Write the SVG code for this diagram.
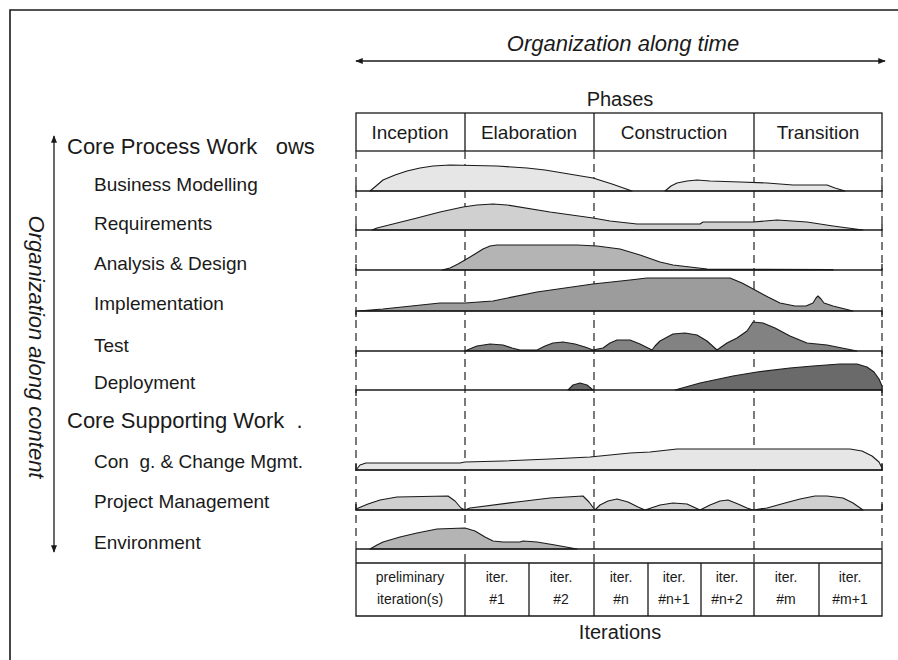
<svg xmlns="http://www.w3.org/2000/svg" width="898" height="660" viewBox="0 0 898 660">
<style>
text{font-family:"Liberation Sans",Arial,sans-serif;fill:#1a1a1a;white-space:pre}
.it{font-style:italic;font-size:22px}
.hdr{font-size:22px}
.lbl{font-size:19px}
.ph{font-size:19px;text-anchor:middle}
.cell{font-size:14px;text-anchor:middle}
.big{font-size:20px;text-anchor:middle}
.base{stroke:#1a1a1a;stroke-width:1.3;fill:none}
.dash{stroke:#333;stroke-width:1.3;stroke-dasharray:8 5;fill:none}
.box{stroke:#1a1a1a;stroke-width:1.3;fill:none}
.hump{stroke:#1a1a1a;stroke-width:1.1;stroke-linejoin:round}
.c1{fill:#e6e6e6}.c2{fill:#d0d0d0}.c3{fill:#b4b4b4}.c4{fill:#9c9c9c}.c5{fill:#828282}.c6{fill:#6a6a6a}
.arr{stroke:#1a1a1a;stroke-width:1.3;fill:none}
</style>
<defs>
<marker id="ah" viewBox="0 0 10 8" refX="9" refY="4" markerWidth="8" markerHeight="6" orient="auto-start-reverse" markerUnits="userSpaceOnUse">
<path d="M0,0 L10,4 L0,8 Z" fill="#1a1a1a"/>
</marker>
</defs>
<rect width="898" height="660" fill="#fff"/>
<path d="M10,660 V10 H898" stroke="#1a1a1a" stroke-width="1.6" fill="none"/>

<g id="time-axis">
<text class="it" x="623" y="51" text-anchor="middle">Organization along time</text>
<line class="arr" x1="356" y1="61" x2="885" y2="61" marker-start="url(#ah)" marker-end="url(#ah)"/>
</g>
<g id="content-axis">
<text class="it" transform="translate(29,347) rotate(90)" text-anchor="middle">Organization along content</text>
<line class="arr" x1="54" y1="136" x2="54" y2="552" marker-start="url(#ah)" marker-end="url(#ah)"/>
</g>

<g id="phases">
<text class="big" x="620" y="106">Phases</text>
<rect class="box" x="356" y="113" width="526" height="38"/>
<line class="box" x1="465" y1="113" x2="465" y2="151"/>
<line class="box" x1="594" y1="113" x2="594" y2="151"/>
<line class="box" x1="754" y1="113" x2="754" y2="151"/>
<text class="ph" x="410" y="139">Inception</text>
<text class="ph" x="529" y="139">Elaboration</text>
<text class="ph" x="674" y="139">Construction</text>
<text class="ph" x="818" y="139">Transition</text>
</g>

<g id="connectors">
<path class="dash" d="M356,151 V549 M465,151 V563 M594,151 V563 M754,151 V563 M882,151 V549"/>
</g>

<g id="labels">
<text class="hdr" x="67" y="154">Core Process Work   ows</text>
<text class="lbl" x="94" y="191">Business Modelling</text>
<text class="lbl" x="94" y="230">Requirements</text>
<text class="lbl" x="94" y="270">Analysis &amp; Design</text>
<text class="lbl" x="94" y="310">Implementation</text>
<text class="lbl" x="94" y="352">Test</text>
<text class="lbl" x="94" y="389">Deployment</text>
<text class="hdr" x="67" y="428">Core Supporting Work  .</text>
<text class="lbl" x="94" y="468">Con  g. &amp; Change Mgmt.</text>
<text class="lbl" x="94" y="508">Project Management</text>
<text class="lbl" x="94" y="549">Environment</text>
</g>

<g id="row-business-modelling">
<path class="hump c1" d="M370,191 L376,186 L383,180 L395,175 L407,171 L420,168 L433,166 L450,165 L497,166 L527,168 L545,170 L563,173 L593,178 L612,184 L632,191 Z"/>
<path class="hump c1" d="M665,191 L671,186 L677,183 L687,181 L697,180 L710,181 L740,182 L767,183 L793,185 L827,185 L835,188 L845,191 Z"/>
<path class="base" d="M356,185 V191 H882 V185"/>
</g>
<g id="row-requirements">
<path class="hump c2" d="M372,230 L377,228 L417,218 L440,212 L463,207 L477,205 L493,204 L507,205 L550,212 L593,218 L610,221 L637,224 L700,224 L703,222 L753,222 L777,220 L807,222 L833,226 L863,230 Z"/>
<path class="base" d="M356,224 V230 H882 V224"/>
</g>
<g id="row-analysis-design">
<path class="hump c3" d="M442,270 L450,268 L458,264 L465,260 L475,254 L483,249 L490,246 L497,245 L577,245 L597,246 L620,249 L640,255 L660,262 L673,265 L690,267 L707,269 L833,269.5 L833,270 Z"/>
<path class="base" d="M356,264 V270 H882 V264"/>
</g>
<g id="row-implementation">
<path class="hump c4" d="M358,311 L383,309 L440,303 L465,303 L493,301 L537,292 L593,284 L630,280 L647,278 L730,278 L742,283 L755,290 L768,297 L780,303 L795,306 L806,306 L813,303 L816,298 L818,296 L821,299 L824,303 L833,306 L853,311 Z"/>
<path class="base" d="M356,317 V311 H882 V317"/>
</g>
<g id="row-test">
<path class="hump c5" d="M465,351 L472,348 L477,346 L490,344 L503,345 L512,348 L520,350 L537,350 L545,346 L553,343 L563,342 L575,344 L585,347 L593,350 L603,348 L610,343 L617,340 L630,340 L640,344 L652,350 L655,346 L660,341 L673,334 L685,333 L697,335 L707,341 L717,350 L727,343 L737,338 L747,331 L753,322 L763,323 L775,328 L790,336 L807,343 L827,345 L857,351 Z"/>
<path class="base" d="M356,357 V351 H882 V357"/>
</g>
<g id="row-deployment">
<path class="hump c6" d="M568,390 L573,385 L580,383 L587,385 L593,390 Z"/>
<path class="hump c6" d="M675,390 L700,383 L733,376 L757,372 L790,368 L813,366 L840,364 L857,364 L867,367 L874,372 L879,379 L882,386 L882,390 Z"/>
<path class="base" d="M356,396 V390 H882 V396"/>
</g>
<g id="row-config-change">
<path class="hump c1" d="M356,470 L360,465 L366,463 L460,463 L465,462 L503,461 L550,459 L590,457 L630,453 L650,452 L677,449 L850,449 L862,451 L872,456 L879,462 L882,468 L882,470 Z"/>
<path class="base" d="M356,464 V470 H882 V464"/>
</g>
<g id="row-project-management">
<path class="hump c2" d="M356,510 L356,509 L368,504 L380,500 L397,497 L448,496 L455,501 L461,508 L465,510 L470,508 L517,502 L550,498 L583,496 L589,502 L595,510 L600,505 L608,501 L617,499 L628,502 L638,507 L645,510 L660,505 L673,503 L687,504 L700,510 L710,505 L720,501 L728,500 L738,504 L747,508 L753,510 L767,508 L785,503 L800,499 L815,496 L827,496 L843,498 L853,503 L863,510 Z"/>
<path class="base" d="M356,504 V510 H882 V504"/>
</g>
<g id="row-environment">
<path class="hump c3" d="M370,549 L377,545 L383,542 L400,537 L417,533 L437,529 L465,528 L475,531 L485,537 L493,541 L503,542 L520,542 L523,541 L537,542 L555,545 L577,549 Z"/>
<path class="base" d="M356,549 H882"/>
</g>

<g id="iterations">
<path class="box" d="M356,549 V616 H882 V549 M356,563 H882 M465,563 V616 M529,563 V616 M594,563 V616 M648,563 V616 M701,563 V616 M754,563 V616 M819,563 V616"/>
<text class="cell" x="410" y="582">preliminary</text>
<text class="cell" x="410" y="604">iteration(s)</text>
<text class="cell" x="497" y="582">iter.</text>
<text class="cell" x="497" y="604">#1</text>
<text class="cell" x="561" y="582">iter.</text>
<text class="cell" x="561" y="604">#2</text>
<text class="cell" x="621" y="582">iter.</text>
<text class="cell" x="621" y="604">#n</text>
<text class="cell" x="674" y="582">iter.</text>
<text class="cell" x="674" y="604">#n+1</text>
<text class="cell" x="727" y="582">iter.</text>
<text class="cell" x="727" y="604">#n+2</text>
<text class="cell" x="786" y="582">iter.</text>
<text class="cell" x="786" y="604">#m</text>
<text class="cell" x="850" y="582">iter.</text>
<text class="cell" x="850" y="604">#m+1</text>
<text class="big" x="620" y="639">Iterations</text>
</g>
</svg>
